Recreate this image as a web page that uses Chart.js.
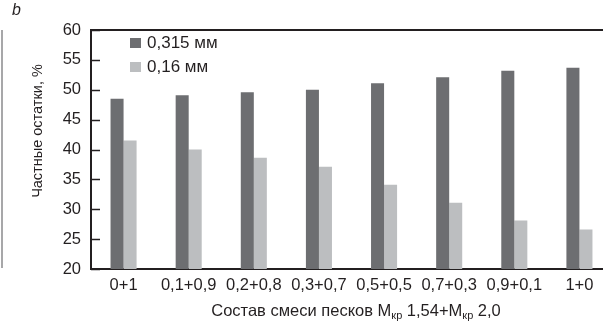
<!DOCTYPE html>
<html><head><meta charset="utf-8">
<script src="https://cdn.jsdelivr.net/npm/chart.js@4/dist/chart.umd.min.js"></script>
<style>html,body{margin:0;padding:0;overflow:hidden;background:#fff;width:603px;height:325px}canvas{display:block}</style>
</head><body>
<canvas id="c" width="625" height="325"></canvas>
<script>
const categories = ["0+1","0,1+0,9","0,2+0,8","0,3+0,7","0,5+0,5","0,7+0,3","0,9+0,1","1+0"];
const series315 = [48.5, 49.1, 49.6, 50.0, 51.1, 52.1, 53.2, 53.7];
const series016 = [41.5, 40.0, 38.6, 37.1, 34.1, 31.1, 28.1, 26.6];
const seriesNames = ["0,315 мм", "0,16 мм"];
const yTicks = [20,25,30,35,40,45,50,55,60];
const colors = ["#6d6e71", "#bcbec0"];
const FONT = "'Liberation Sans', Arial, sans-serif";
const TXT = "#231f20";

const deco = {
  id: 'deco',
  afterDraw(chart) {
    const ctx = chart.ctx, a = chart.chartArea, y = chart.scales.y;
    ctx.save();
    ctx.strokeStyle = TXT; ctx.lineWidth = 2;
    ctx.beginPath(); ctx.moveTo(a.left - 1, a.top); ctx.lineTo(a.right + 20, a.top); ctx.stroke();
    ctx.lineWidth = 1.5;
    y.ticks.forEach(t => {
      const py = Math.round(y.getPixelForValue(t.value)) + 0.5;
      ctx.beginPath(); ctx.moveTo(a.left, py); ctx.lineTo(a.left + 9, py); ctx.stroke();
    });
    ctx.font = "17px " + FONT; ctx.textBaseline = 'middle'; ctx.textAlign = 'left';
    seriesNames.forEach((n, i) => {
      const cy = 43 + i * 24;
      ctx.fillStyle = colors[i]; ctx.fillRect(130, cy - 5, 11, 10);
      ctx.fillStyle = TXT; ctx.fillText(n, 147, cy);
    });
    ctx.save();
    ctx.translate(38, 131); ctx.rotate(-Math.PI / 2);
    ctx.textAlign = 'center'; ctx.font = "14.5px " + FONT; ctx.fillStyle = TXT;
    ctx.fillText("Частные остатки, %", 0, 0);
    ctx.restore();
    const parts = [["Состав смеси песков М", 0], ["кр", 1], [" 1,54+М", 0], ["кр", 1], [" 2,0", 0]];
    const big = "16.5px " + FONT, small = "11px " + FONT;
    let w = 0;
    parts.forEach(p => { ctx.font = p[1] ? small : big; w += ctx.measureText(p[0]).width; });
    let px = 356 - w / 2; const base = 316;
    ctx.textBaseline = 'alphabetic'; ctx.fillStyle = TXT;
    parts.forEach(p => {
      ctx.font = p[1] ? small : big;
      ctx.fillText(p[0], px, p[1] ? base + 3 : base);
      px += ctx.measureText(p[0]).width;
    });
    ctx.font = "italic 16px " + FONT; ctx.fillText("b", 12, 15);
    ctx.strokeStyle = "#8a8a8c"; ctx.lineWidth = 1.5;
    ctx.beginPath(); ctx.moveTo(2, 30); ctx.lineTo(2, 268); ctx.stroke();
    ctx.restore();
  }
};

new Chart(document.getElementById('c'), {
  type: 'bar',
  data: {
    labels: categories,
    datasets: [
      { label: seriesNames[0], data: series315, backgroundColor: colors[0], categoryPercentage: 0.4, barPercentage: 1.0 },
      { label: seriesNames[1], data: series016, backgroundColor: colors[1], categoryPercentage: 0.4, barPercentage: 1.0 }
    ]
  },
  options: {
    responsive: false, animation: false,
    layout: { padding: { top: 30, right: 13, left: 0, bottom: 0 } },
    plugins: { legend: { display: false }, tooltip: { enabled: false } },
    scales: {
      x: {
        grid: { display: false, drawTicks: false },
        border: { display: true, color: TXT, width: 2 },
        ticks: { color: TXT, font: { family: FONT, size: 16.5 }, padding: 7, maxRotation: 0, autoSkip: false },
        afterFit(s) { s.height = 56; }
      },
      y: {
        min: 20, max: 60,
        afterBuildTicks(s) { s.ticks = yTicks.map(v => ({ value: v })); },
        grid: { display: false, drawTicks: false },
        border: { display: true, color: TXT, width: 2 },
        ticks: { color: TXT, font: { family: FONT, size: 16.5 }, padding: 10 },
        afterFit(s) { s.width = 91; }
      }
    }
  },
  plugins: [deco]
});
</script>
</body></html>
